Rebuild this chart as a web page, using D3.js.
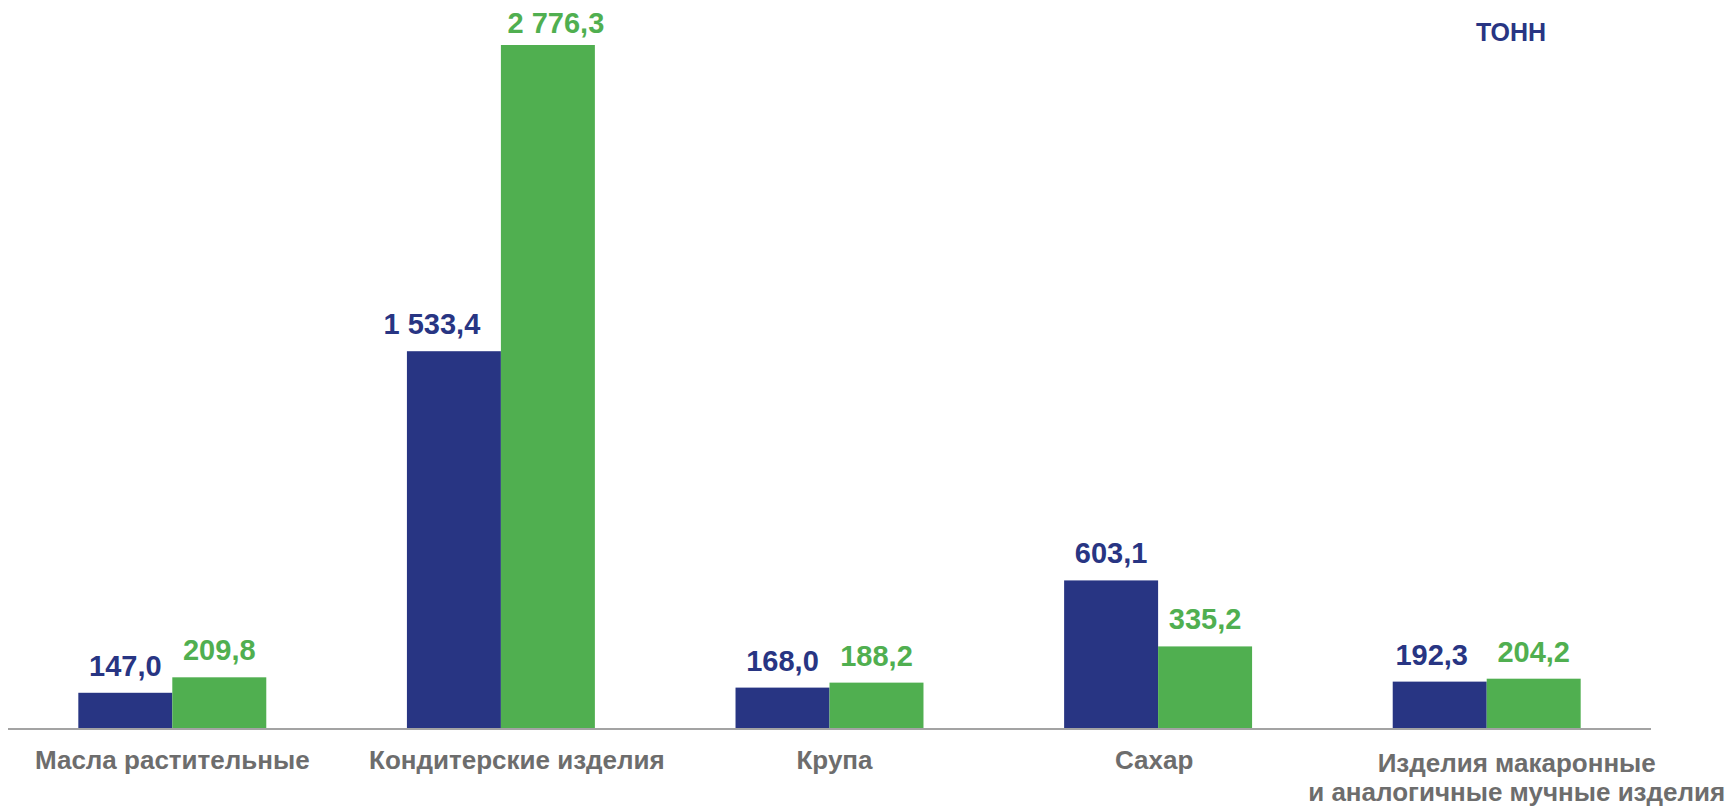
<!DOCTYPE html>
<html>
<head>
<meta charset="utf-8">
<script src="https://cdn.jsdelivr.net/npm/d3@7"></script>
<style>
  body { margin: 0; background: #fff; }
  text { font-family: "Liberation Sans", Arial, sans-serif; font-weight: bold; }
</style>
</head>
<body>
<div id="chart"></div>
<script>
// Data
const categories = [
    ["Масла растительные"],
    ["Кондитерские изделия"],
    ["Крупа"],
    ["Сахар"],
    ["Изделия макаронные", "и аналогичные мучные изделия"]
];
const seriesNames = ["prev", "curr"];
const prevValues = [147.0, 1533.4, 168.0, 603.1, 192.3];
const currValues = [209.8, 2776.3, 188.2, 335.2, 204.2];
const unitLabel = "ТОНН";

// small hand nudges the original layout had
const catLabelDx = [0, 16, 5, -4, 30];
const valueLabelDx = [[0, 0], [-22, 8], [0, 0], [0, 0], [-8, 0]];

const colors = { prev: "#283583", curr: "#50af50" };

function drawChart() {
    const width = 1729, height = 806;
    const baseY = 729, topY = 45;

    const svg = d3.select("#chart").append("svg")
        .attr("width", width)
        .attr("height", height);

    const x0 = d3.scaleBand()
        .domain(d3.range(categories.length))
        .range([8, 1651])
        .paddingInner(0.428)
        .paddingOuter(0.214);

    const x1 = d3.scaleBand()
        .domain(seriesNames)
        .range([0, x0.bandwidth()]);

    const y = d3.scaleLinear()
        .domain([0, d3.max(currValues.concat(prevValues))])
        .range([baseY, topY]);

    const rows = categories.map((c, i) => ({
        i: i,
        vals: [
            { key: "prev", v: prevValues[i] },
            { key: "curr", v: currValues[i] }
        ]
    }));

    const groups = svg.selectAll(".grp")
        .data(rows)
        .enter().append("g")
        .attr("class", "grp")
        .attr("transform", d => `translate(${x0(d.i)},0)`);

    groups.selectAll("rect")
        .data(d => d.vals)
        .enter().append("rect")
        .attr("x", d => x1(d.key))
        .attr("y", d => y(d.v))
        .attr("width", x1.bandwidth())
        .attr("height", d => y(0) - y(d.v))
        .attr("fill", d => colors[d.key]);

    // value labels
    groups.each(function(row) {
        d3.select(this).selectAll(".val")
            .data(row.vals)
            .enter().append("text")
            .attr("class", "val")
            .attr("x", (d, j) => x1(d.key) + x1.bandwidth() / 2 + valueLabelDx[row.i][j])
            .attr("y", d => Math.max(y(d.v) - 17, 33))
            .attr("text-anchor", "middle")
            .style("font-size", "29px")
            .attr("fill", d => colors[d.key])
            .text(d => d3.format(",.1f")(d.v).replace(/,/g, " ").replace(".", ","));
    });

    // baseline
    svg.append("line")
        .attr("x1", 8)
        .attr("x2", 1651)
        .attr("y1", baseY)
        .attr("y2", baseY)
        .attr("stroke", "#a3a3a3")
        .attr("stroke-width", 2);

    // category labels
    categories.forEach((lines, i) => {
        const cx = x0(i) + x0.bandwidth() / 2 + catLabelDx[i];
        const t = svg.append("text")
            .attr("text-anchor", "middle")
            .attr("fill", "#6d6d6d")
            .style("font-size", "26px");
        lines.forEach((ln, k) => {
            t.append("tspan")
                .attr("x", cx)
                .attr("y", (lines.length > 1 ? 772 : 769) + k * 29)
                .text(ln);
        });
    });

    // unit
    svg.append("text")
        .attr("x", 1511)
        .attr("y", 41)
        .attr("text-anchor", "middle")
        .attr("fill", colors.prev)
        .style("font-size", "25px")
        .text(unitLabel);
}

drawChart();
</script>
</body>
</html>
